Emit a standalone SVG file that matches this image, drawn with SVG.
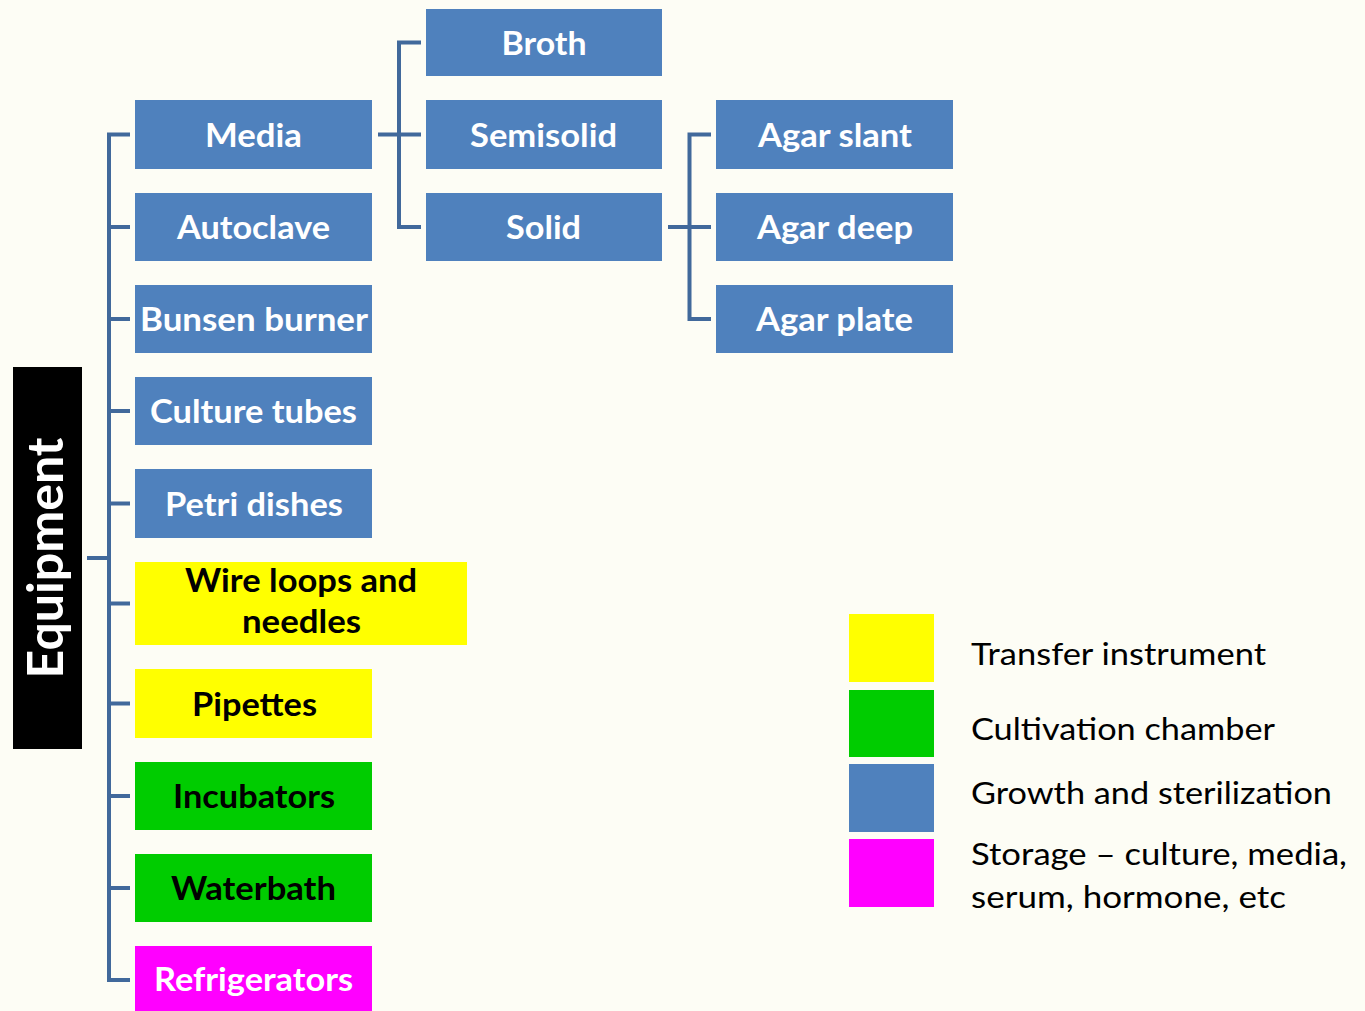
<svg xmlns="http://www.w3.org/2000/svg" width="1365" height="1011" viewBox="0 0 1365 1011">
<style>
.bg{fill:#fdfdf5}
.blue{fill:#4f81bd}
.yel{fill:#ffff00}
.grn{fill:#00cc00}
.mag{fill:#ff00ff}
.lbl{font-family:Lato,"Open Sans","Liberation Sans",sans-serif;font-weight:bold;font-size:33px;text-anchor:middle}
.w{fill:#ffffff}
.k{fill:#000000}
.leg{font-family:Lato,"Open Sans","Liberation Sans",sans-serif;font-size:30px;fill:#000000}
.conn{fill:none;stroke:#41699b;stroke-width:4}
</style>
<rect class="bg" x="0" y="0" width="1365" height="1011"/>
<g id="connectors">
<path class="conn" d="M130,134.5 H109 V980 H130 M109,227 H130 M109,319 H130 M109,411 H130 M109,503.5 H130 M109,603.5 H130 M109,703.5 H130 M109,796 H130 M109,888 H130 M87,558 H109"/>
<path class="conn" d="M378,134.5 H421 M421,42.5 H399 V227 H421"/>
<path class="conn" d="M668,227 H711 M711,134.5 H689.5 V319 H711"/>
</g>
<g id="equipment">
<rect x="13" y="367" width="69" height="382" fill="#000000"/>
<text transform="translate(63,558) rotate(-90)" x="0" y="0" text-anchor="middle" font-family="Lato,'Open Sans','Liberation Sans',sans-serif" font-weight="bold" font-size="49" fill="#ffffff" textLength="241" lengthAdjust="spacingAndGlyphs">Equipment</text>
</g>
<g id="media"><rect class="blue" x="135" y="100" width="237" height="69"/><text class="lbl w" x="253.5" y="146.5" textLength="97" lengthAdjust="spacingAndGlyphs">Media</text></g>
<g id="autoclave"><rect class="blue" x="135" y="193" width="237" height="68"/><text class="lbl w" x="253.5" y="239" textLength="153" lengthAdjust="spacingAndGlyphs">Autoclave</text></g>
<g id="bunsen"><rect class="blue" x="135" y="285" width="237" height="68"/><text class="lbl w" x="254" y="331" textLength="228" lengthAdjust="spacingAndGlyphs">Bunsen burner</text></g>
<g id="culture"><rect class="blue" x="135" y="377" width="237" height="68"/><text class="lbl w" x="253.5" y="423" textLength="207" lengthAdjust="spacingAndGlyphs">Culture tubes</text></g>
<g id="petri"><rect class="blue" x="135" y="469" width="237" height="69"/><text class="lbl w" x="254" y="515.5" textLength="178" lengthAdjust="spacingAndGlyphs">Petri dishes</text></g>
<g id="wire"><rect class="yel" x="135" y="562" width="332" height="83"/><text class="lbl k" x="301" y="592" textLength="232" lengthAdjust="spacingAndGlyphs">Wire loops and</text><text class="lbl k" x="301.5" y="633" textLength="119" lengthAdjust="spacingAndGlyphs">needles</text></g>
<g id="pipettes"><rect class="yel" x="135" y="669" width="237" height="69"/><text class="lbl k" x="254.5" y="715.5" textLength="125" lengthAdjust="spacingAndGlyphs">Pipettes</text></g>
<g id="incubators"><rect class="grn" x="135" y="762" width="237" height="68"/><text class="lbl k" x="254" y="808" textLength="162" lengthAdjust="spacingAndGlyphs">Incubators</text></g>
<g id="waterbath"><rect class="grn" x="135" y="854" width="237" height="68"/><text class="lbl k" x="253.5" y="900" textLength="165" lengthAdjust="spacingAndGlyphs">Waterbath</text></g>
<g id="refrigerators"><rect class="mag" x="135" y="946" width="237" height="68"/><text class="lbl w" x="253.5" y="991" textLength="199" lengthAdjust="spacingAndGlyphs">Refrigerators</text></g>
<g id="broth"><rect class="blue" x="426" y="9" width="236" height="67"/><text class="lbl w" x="544" y="54.5" textLength="85" lengthAdjust="spacingAndGlyphs">Broth</text></g>
<g id="semisolid"><rect class="blue" x="426" y="100" width="236" height="69"/><text class="lbl w" x="543.5" y="146.5" textLength="147" lengthAdjust="spacingAndGlyphs">Semisolid</text></g>
<g id="solid"><rect class="blue" x="426" y="193" width="236" height="68"/><text class="lbl w" x="543.5" y="239" textLength="75" lengthAdjust="spacingAndGlyphs">Solid</text></g>
<g id="agar-slant"><rect class="blue" x="716" y="100" width="237" height="69"/><text class="lbl w" x="835" y="146.5" textLength="154" lengthAdjust="spacingAndGlyphs">Agar slant</text></g>
<g id="agar-deep"><rect class="blue" x="716" y="193" width="237" height="68"/><text class="lbl w" x="835" y="239" textLength="156" lengthAdjust="spacingAndGlyphs">Agar deep</text></g>
<g id="agar-plate"><rect class="blue" x="716" y="285" width="237" height="68"/><text class="lbl w" x="834.5" y="331" textLength="157" lengthAdjust="spacingAndGlyphs">Agar plate</text></g>
<g id="legend">
<rect class="yel" x="849" y="614" width="85" height="68"/>
<rect class="grn" x="849" y="690" width="85" height="67"/>
<rect class="blue" x="849" y="764" width="85" height="68"/>
<rect class="mag" x="849" y="839" width="85" height="68"/>
<text class="leg" x="971" y="665" textLength="295" lengthAdjust="spacingAndGlyphs">Transfer instrument</text>
<text class="leg" x="971" y="740" textLength="304" lengthAdjust="spacingAndGlyphs">Cultivation chamber</text>
<text class="leg" x="971" y="804" textLength="361" lengthAdjust="spacingAndGlyphs">Growth and sterilization</text>
<text class="leg" x="971" y="865" textLength="376" lengthAdjust="spacingAndGlyphs">Storage – culture, media,</text>
<text class="leg" x="971" y="908" textLength="315" lengthAdjust="spacingAndGlyphs">serum, hormone, etc</text>
</g>
</svg>
